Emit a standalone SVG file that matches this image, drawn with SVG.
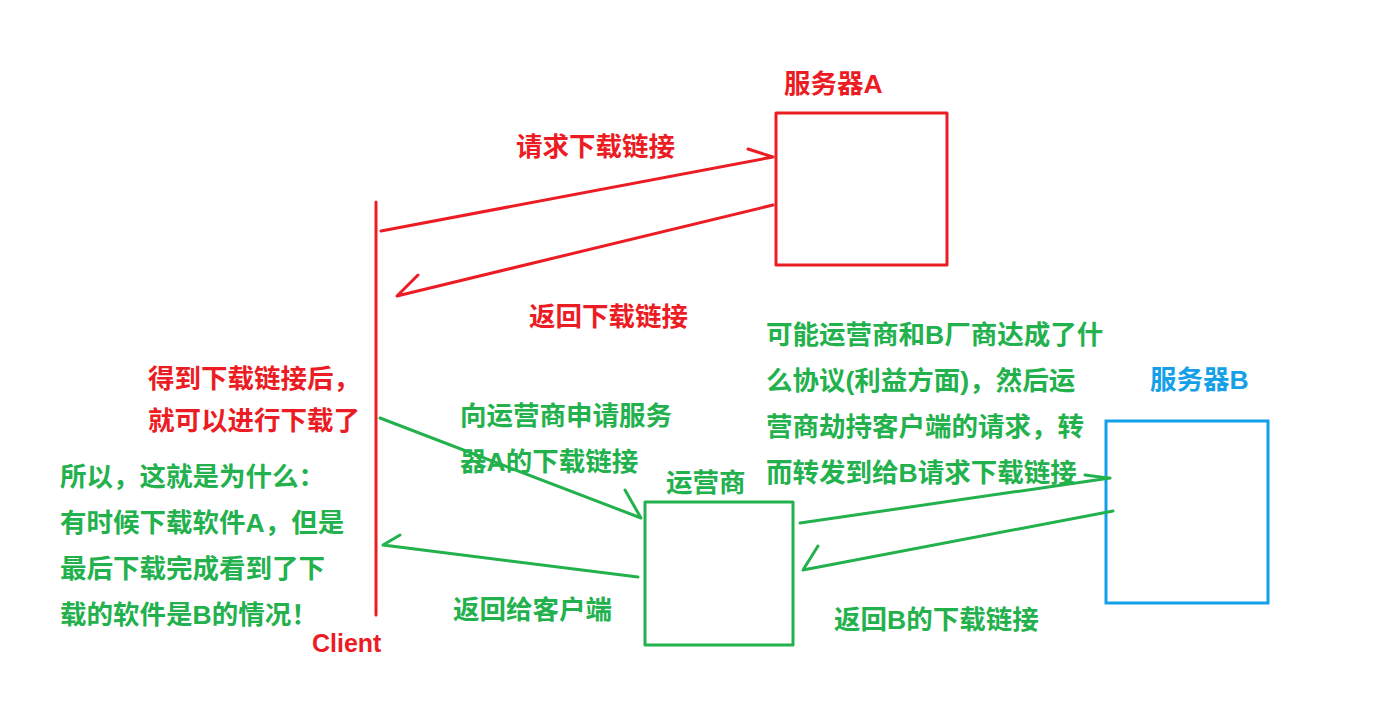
<svg xmlns="http://www.w3.org/2000/svg" width="1398" height="720" viewBox="0 0 1398 720">
<style>
.r{stroke:#ec1c24;fill:none;stroke-width:3;stroke-linecap:round;stroke-linejoin:round}
.g{stroke:#22b14c;fill:none;stroke-width:3;stroke-linecap:round;stroke-linejoin:round}
.b{stroke:#14a0e8;fill:none;stroke-width:3}
text{font-family:"Liberation Sans","Noto Sans CJK SC",sans-serif;font-weight:bold;font-size:26.5px}
.tr{fill:#ec1c24}.tg{fill:#22b14c}.tb{fill:#14a0e8}
</style>
<rect width="1398" height="720" fill="#fff"/>
<g id="client"><line class="r" x1="376" y1="202" x2="376" y2="615"/><text class="tr" x="312" y="652" style="font-size:25px">Client</text></g>
<g id="serverA"><rect class="r" x="776" y="113" width="171" height="152"/><text class="tr" x="784" y="93">服务器A</text></g>
<g id="isp"><rect class="g" x="645" y="502" width="148" height="143"/><text class="tg" x="666" y="492">运营商</text></g>
<g id="serverB"><rect class="b" x="1106" y="421" width="162" height="182"/><text class="tb" x="1150" y="389">服务器B</text></g>
<g id="connectors">
<polyline class="r" points="381,231 773,157 748,149"/>
<polyline class="r" points="773,205 397,296 418,275"/>
<polyline class="g" points="380,418 641,518 625,490"/>
<line class="g" x1="800" y1="523" x2="1110" y2="478"/>
<line class="g" x1="1085" y1="475" x2="1108" y2="478"/>
<polyline class="g" points="1113,511 803,570 818,546"/>
<polyline class="g" points="638,577 383,545 400,535"/>
</g>
<g id="labels">
<text class="tr" x="516" y="156">请求下载链接</text>
<text class="tr" x="529" y="326">返回下载链接</text>
<text class="tr" x="148" y="388">得到下载链接后，</text>
<text class="tr" x="148" y="430">就可以进行下载了</text>
<text class="tg" x="460" y="425">向运营商申请服务</text>
<text class="tg" x="460" y="471">器A的下载链接</text>
<text class="tg" x="766" y="344">可能运营商和B厂商达成了什</text>
<text class="tg" x="766" y="390">么协议(利益方面)，然后运</text>
<text class="tg" x="766" y="436">营商劫持客户端的请求，转</text>
<text class="tg" x="766" y="482">而转发到给B请求下载链接</text>
<text class="tg" x="60" y="486">所以，这就是为什么：</text>
<text class="tg" x="60" y="532">有时候下载软件A，但是</text>
<text class="tg" x="60" y="578">最后下载完成看到了下</text>
<text class="tg" x="60" y="624">载的软件是B的情况！</text>
<text class="tg" x="453" y="619">返回给客户端</text>
<text class="tg" x="834" y="629">返回B的下载链接</text>
</g>
</svg>
